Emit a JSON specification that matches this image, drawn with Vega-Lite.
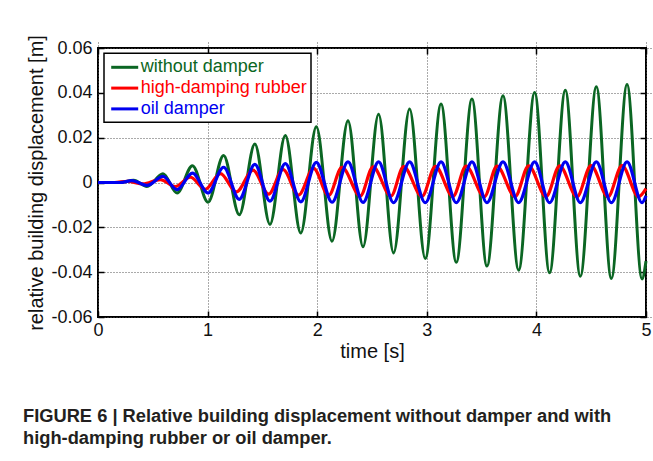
{
  "$schema": "https://vega.github.io/schema/vega-lite/v6.json",
  "autosize": "none",
  "width": 548,
  "height": 269,
  "padding": {"left": 98, "top": 48, "right": 7, "bottom": 144},
  "background": "white",
  "config": {
    "font": "Liberation Sans",
    "view": {"stroke": "black", "strokeWidth": 2},
    "axis": {
      "domain": false,
      "offset": -6,
      "ticks": true,
      "tickColor": "black",
      "tickWidth": 1.5,
      "tickSize": 6,
      "labelFlush": false,
      "labelFont": "Liberation Sans",
      "labelFontSize": 18,
      "labelColor": "#111",
      "titleFont": "Liberation Sans",
      "titleFontSize": 20,
      "titleFontWeight": "normal",
      "titleColor": "#111",
      "gridColor": "#555",
      "gridDash": [1, 2],
      "gridWidth": 1
    }
  },
  "title": {
    "text": [
      "FIGURE 6 | Relative building displacement without damper and with",
      "high-damping rubber or oil damper."
    ],
    "orient": "bottom",
    "anchor": "start",
    "frame": "group",
    "align": "left",
    "dx": -75,
    "offset": 47,
    "font": "Liberation Sans",
    "fontSize": 18.3,
    "fontWeight": "bold",
    "color": "#231f20",
    "lineHeight": 22
  },
  "datasets": {
    "disp": [
      {"series": "without damper", "t": 0, "d": 0},
      {"series": "without damper", "t": 0.2, "d": 0},
      {"series": "without damper", "t": 0.325, "d": 0.001},
      {"series": "without damper", "t": 0.447, "d": -0.0018},
      {"series": "without damper", "t": 0.593, "d": 0.0039},
      {"series": "without damper", "t": 0.721, "d": -0.0047},
      {"series": "without damper", "t": 0.862, "d": 0.0075},
      {"series": "without damper", "t": 1.004, "d": -0.0088},
      {"series": "without damper", "t": 1.146, "d": 0.0121},
      {"series": "without damper", "t": 1.289, "d": -0.0144},
      {"series": "without damper", "t": 1.431, "d": 0.0172},
      {"series": "without damper", "t": 1.569, "d": -0.0187},
      {"series": "without damper", "t": 1.709, "d": 0.021},
      {"series": "without damper", "t": 1.85, "d": -0.0225},
      {"series": "without damper", "t": 1.992, "d": 0.0249},
      {"series": "without damper", "t": 2.135, "d": -0.0262},
      {"series": "without damper", "t": 2.281, "d": 0.0276},
      {"series": "without damper", "t": 2.418, "d": -0.0287},
      {"series": "without damper", "t": 2.56, "d": 0.0304},
      {"series": "without damper", "t": 2.697, "d": -0.0314},
      {"series": "without damper", "t": 2.843, "d": 0.0328},
      {"series": "without damper", "t": 2.986, "d": -0.0339},
      {"series": "without damper", "t": 3.13, "d": 0.035},
      {"series": "without damper", "t": 3.269, "d": -0.0356},
      {"series": "without damper", "t": 3.412, "d": 0.0372},
      {"series": "without damper", "t": 3.549, "d": -0.0373},
      {"series": "without damper", "t": 3.695, "d": 0.0387},
      {"series": "without damper", "t": 3.838, "d": -0.0391},
      {"series": "without damper", "t": 3.984, "d": 0.0402},
      {"series": "without damper", "t": 4.12, "d": -0.0403},
      {"series": "without damper", "t": 4.264, "d": 0.0412},
      {"series": "without damper", "t": 4.401, "d": -0.0418},
      {"series": "without damper", "t": 4.547, "d": 0.0427},
      {"series": "without damper", "t": 4.684, "d": -0.0428},
      {"series": "without damper", "t": 4.827, "d": 0.0437},
      {"series": "without damper", "t": 4.964, "d": -0.043},
      {"series": "without damper", "t": 5.0, "d": -0.035},

      {"series": "high-damping rubber", "t": 0, "d": 0},
      {"series": "high-damping rubber", "t": 0.15, "d": 0},
      {"series": "high-damping rubber", "t": 0.27, "d": 0.0005},
      {"series": "high-damping rubber", "t": 0.41, "d": -0.0006},
      {"series": "high-damping rubber", "t": 0.568, "d": 0.0013},
      {"series": "high-damping rubber", "t": 0.705, "d": -0.0018},
      {"series": "high-damping rubber", "t": 0.842, "d": 0.0024},
      {"series": "high-damping rubber", "t": 0.979, "d": -0.003},
      {"series": "high-damping rubber", "t": 1.117, "d": 0.004},
      {"series": "high-damping rubber", "t": 1.262, "d": -0.0042},
      {"series": "high-damping rubber", "t": 1.414, "d": 0.0055},
      {"series": "high-damping rubber", "t": 1.557, "d": -0.0052},
      {"series": "high-damping rubber", "t": 1.688, "d": 0.0058},
      {"series": "high-damping rubber", "t": 1.83, "d": -0.0056},
      {"series": "high-damping rubber", "t": 1.967, "d": 0.0063},
      {"series": "high-damping rubber", "t": 2.104, "d": -0.0058},
      {"series": "high-damping rubber", "t": 2.226, "d": 0.0068},
      {"series": "high-damping rubber", "t": 2.393, "d": -0.006},
      {"series": "high-damping rubber", "t": 2.509, "d": 0.007},
      {"series": "high-damping rubber", "t": 2.673, "d": -0.0061},
      {"series": "high-damping rubber", "t": 2.788, "d": 0.0071},
      {"series": "high-damping rubber", "t": 2.956, "d": -0.0062},
      {"series": "high-damping rubber", "t": 3.078, "d": 0.0072},
      {"series": "high-damping rubber", "t": 3.239, "d": -0.0062},
      {"series": "high-damping rubber", "t": 3.358, "d": 0.0073},
      {"series": "high-damping rubber", "t": 3.525, "d": -0.0063},
      {"series": "high-damping rubber", "t": 3.64, "d": 0.0073},
      {"series": "high-damping rubber", "t": 3.805, "d": -0.0063},
      {"series": "high-damping rubber", "t": 3.929, "d": 0.0074},
      {"series": "high-damping rubber", "t": 4.088, "d": -0.0063},
      {"series": "high-damping rubber", "t": 4.212, "d": 0.0074},
      {"series": "high-damping rubber", "t": 4.37, "d": -0.0063},
      {"series": "high-damping rubber", "t": 4.498, "d": 0.0075},
      {"series": "high-damping rubber", "t": 4.653, "d": -0.0063},
      {"series": "high-damping rubber", "t": 4.781, "d": 0.0075},
      {"series": "high-damping rubber", "t": 4.932, "d": -0.0063},
      {"series": "high-damping rubber", "t": 5.0, "d": -0.0027},

      {"series": "oil damper", "t": 0, "d": 0},
      {"series": "oil damper", "t": 0.2, "d": 0},
      {"series": "oil damper", "t": 0.31, "d": 0.0008},
      {"series": "oil damper", "t": 0.447, "d": -0.0013},
      {"series": "oil damper", "t": 0.593, "d": 0.0027},
      {"series": "oil damper", "t": 0.721, "d": -0.0032},
      {"series": "oil damper", "t": 0.862, "d": 0.0042},
      {"series": "oil damper", "t": 1.004, "d": -0.0047},
      {"series": "oil damper", "t": 1.146, "d": 0.0068},
      {"series": "oil damper", "t": 1.289, "d": -0.0075},
      {"series": "oil damper", "t": 1.431, "d": 0.0081},
      {"series": "oil damper", "t": 1.569, "d": -0.0083},
      {"series": "oil damper", "t": 1.709, "d": 0.0084},
      {"series": "oil damper", "t": 1.85, "d": -0.0086},
      {"series": "oil damper", "t": 1.992, "d": 0.009},
      {"series": "oil damper", "t": 2.135, "d": -0.0088},
      {"series": "oil damper", "t": 2.281, "d": 0.0092},
      {"series": "oil damper", "t": 2.418, "d": -0.0089},
      {"series": "oil damper", "t": 2.56, "d": 0.0092},
      {"series": "oil damper", "t": 2.697, "d": -0.009},
      {"series": "oil damper", "t": 2.843, "d": 0.0092},
      {"series": "oil damper", "t": 2.986, "d": -0.009},
      {"series": "oil damper", "t": 3.13, "d": 0.0092},
      {"series": "oil damper", "t": 3.269, "d": -0.009},
      {"series": "oil damper", "t": 3.412, "d": 0.0092},
      {"series": "oil damper", "t": 3.549, "d": -0.009},
      {"series": "oil damper", "t": 3.695, "d": 0.0092},
      {"series": "oil damper", "t": 3.838, "d": -0.009},
      {"series": "oil damper", "t": 3.984, "d": 0.0092},
      {"series": "oil damper", "t": 4.12, "d": -0.009},
      {"series": "oil damper", "t": 4.264, "d": 0.0092},
      {"series": "oil damper", "t": 4.401, "d": -0.009},
      {"series": "oil damper", "t": 4.547, "d": 0.0092},
      {"series": "oil damper", "t": 4.684, "d": -0.009},
      {"series": "oil damper", "t": 4.827, "d": 0.0092},
      {"series": "oil damper", "t": 4.964, "d": -0.009},
      {"series": "oil damper", "t": 5.0, "d": -0.006}
    ]
  },
  "data": {"name": "disp"},
  "layer": [
    {
      "encoding": {
        "x": {
          "field": "t",
          "type": "quantitative",
          "scale": {"domain": [0, 5], "nice": false, "zero": false},
          "axis": {
            "orient": "bottom",
            "title": "time [s]",
            "values": [0, 1, 2, 3, 4, 5],
            "grid": true,
            "labelPadding": 4,
            "titlePadding": 2
          }
        },
        "y": {
          "field": "d",
          "type": "quantitative",
          "scale": {"domain": [-0.06, 0.06], "nice": false, "zero": false},
          "axis": {
            "orient": "left",
            "title": "relative building displacement [m]",
            "values": [-0.06, -0.04, -0.02, 0, 0.02, 0.04, 0.06],
            "labelExpr": "datum.value == 0 ? '0' : replace(format(datum.value, '.2f'), '\u2212', '-')",
            "grid": true,
            "labelPadding": 6,
            "titlePadding": 4
          }
        },
        "color": {
          "field": "series",
          "type": "nominal",
          "scale": {
            "domain": ["without damper", "high-damping rubber", "oil damper"],
            "range": ["#0b6623", "#ff0000", "#0000f0"]
          },
          "legend": {
            "orient": "none",
            "legendX": 6,
            "legendY": 5.3,
            "title": null,
            "strokeColor": "black",
            "fillColor": "white",
            "padding": 4,
            "symbolType": "M-1.588,0H1.588",
            "symbolSize": 289,
            "symbolStrokeWidth": 3,
            "symbolOffset": 6.7,
            "labelFont": "Liberation Sans",
            "labelFontSize": 18,
            "labelOffset": 6,
            "labelLimit": 300,
            "rowPadding": 1.8,
            "encode": {
              "labels": {"update": {"fill": {"scale": "color", "field": "value"}}},
              "legend": {"update": {"strokeWidth": {"value": 1.5}}}
            }
          }
        }
      },
      "layer": [
        {
          "transform": [{"filter": "datum.series === 'without damper'"}],
          "mark": {"type": "line", "interpolate": "monotone", "strokeWidth": 3}
        },
        {
          "transform": [{"filter": "datum.series === 'high-damping rubber'"}],
          "mark": {"type": "line", "interpolate": "monotone", "strokeWidth": 3.2}
        },
        {
          "transform": [{"filter": "datum.series === 'oil damper'"}],
          "mark": {"type": "line", "interpolate": "monotone", "strokeWidth": 3.2}
        }
      ]
    },
    {
      "mark": {"type": "line", "opacity": 0},
      "encoding": {
        "x": {
          "field": "t",
          "type": "quantitative",
          "scale": {"domain": [0, 5], "nice": false, "zero": false},
          "axis": {"orient": "top", "title": null, "labels": false, "grid": false, "values": [0, 1, 2, 3, 4, 5]}
        },
        "y": {
          "field": "d",
          "type": "quantitative",
          "scale": {"domain": [-0.06, 0.06], "nice": false, "zero": false},
          "axis": {"orient": "right", "title": null, "labels": false, "grid": false, "values": [-0.06, -0.04, -0.02, 0, 0.02, 0.04, 0.06]}
        },
        "detail": {"field": "series"}
      }
    }
  ],
  "resolve": {"scale": {"x": "independent", "y": "independent"}}
}
